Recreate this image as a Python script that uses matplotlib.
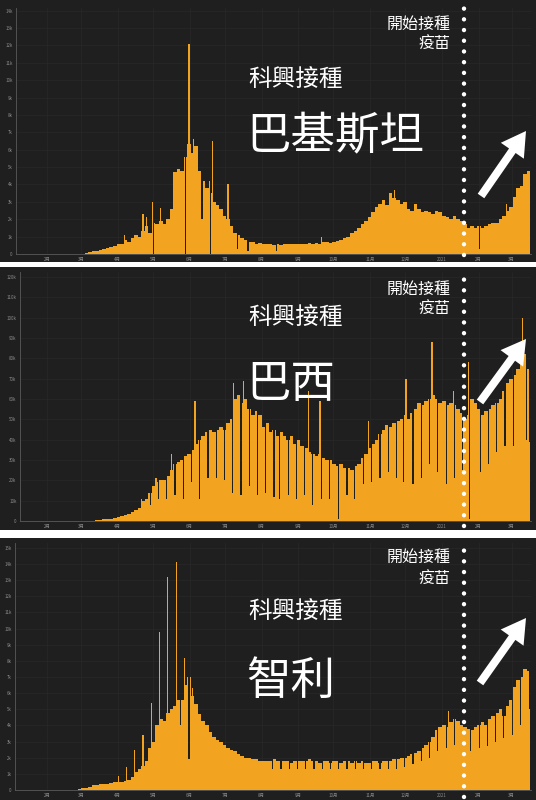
import numpy as np
import matplotlib
matplotlib.use('Agg')
import matplotlib.pyplot as plt
from matplotlib.patches import FancyArrow

plt.rcParams['font.family'] = ['Noto Sans CJK TC', 'DejaVu Sans']

W, H = 536, 800
BG = '#1f1f1f'
ORANGE = '#f2a31f'

# day 0 = 2020-01-01, data starts 2020-01-22, values read in 3-day steps (thousands)
start_day = 21
bin_days = 3
vacc_day = 385

month_days = [31, 60, 91, 121, 152, 182, 213, 244, 274, 305, 335, 366, 397, 425]
month_labels = ['2月', '3月', '4月', '5月', '6月', '7月', '8月', '9月', '10月',
                '11月', '12月', '2021', '2月', '3月']

pak_bins = [0, 0, 0, 0, 0, 0, 0, 0, 0, 0,
            0, 0, 0, 0.02, 0.05, 0.1, 0.15, 0.2, 0.25, 0.3,
            0.35, 0.4, 0.45, 0.55, 0.6, 0.8, 0.7, 0.9, 1.1, 1.0,
            1.3, 1.6, 1.2, 1.8, 1.7, 1.9, 1.7, 2.0, 2.6, 4.7,
            4.9, 4.8, 5.6, 6.3, 5.8, 6.2, 4.8, 4.2, 3.8, 3.5,
            3.0, 2.8, 2.6, 2.2, 2.0, 1.6, 1.2, 1.1, 0.9, 0.8,
            0.7, 0.7, 0.6, 0.65, 0.6, 0.6, 0.55, 0.5, 0.55, 0.5,
            0.6, 0.55, 0.6, 0.6, 0.55, 0.6, 0.6, 0.65, 0.6, 0.65,
            0.6, 0.7, 0.7, 0.65, 0.7, 0.75, 0.8, 0.9, 1.0, 1.2,
            1.3, 1.5, 1.7, 1.9, 2.1, 2.4, 2.7, 2.9, 3.1, 2.8,
            3.5, 3.2, 3.1, 2.9, 3.0, 2.6, 2.5, 2.9, 2.6, 2.4,
            2.5, 2.4, 2.3, 2.5, 2.4, 2.2, 2.1, 2.0, 2.2, 2.0,
            1.9, 1.7, 1.5, 1.6, 1.5, 1.6, 1.5, 1.6, 1.7, 1.8,
            1.8, 2.0, 2.2, 2.5, 2.7, 3.3, 3.8, 3.9, 4.6, 4.8]
pak_mark_days = [96, 112, 115, 120, 121, 127, 148, 151, 155, 162, 168, 169,
                 171, 184, 192, 201, 225, 263, 325, 397, 420]
pak_mark_vals = [1.1, 2.3, 2.1, 3.0, 0.0, 2.65, 0.0, 12.1, 6.6, 2.0, 4.2, 0.0,
                 6.5, 4.0, 0.3, 0.2, 0.2, 1.0, 3.7, 0.3, 2.9]

bra_bins = [0, 0, 0, 0, 0, 0, 0, 0, 0, 0,
            0, 0, 0, 0, 0, 0, 0.2, 0.3, 0.5, 0.8,
            1.0, 1.2, 1.5, 2.0, 2.5, 3.0, 3.5, 4.5, 5.5, 6.5,
            10, 11, 14, 17, 19, 20, 20, 22, 25, 28,
            29, 30, 32, 33, 35, 38, 40, 42, 44, 45,
            44, 45, 46, 45, 48, 50, 60, 62, 58, 60,
            55, 52, 54, 52, 46, 48, 44, 45, 42, 44,
            42, 40, 42, 38, 40, 37, 36, 34, 33, 32,
            33, 31, 30, 30, 28, 27, 28, 26, 26, 25,
            27, 28, 31, 33, 36, 38, 40, 43, 45, 47,
            46, 48, 49, 50, 52, 50, 53, 55, 58, 57,
            59, 60, 62, 60, 58, 59, 57, 58, 57, 55,
            53, 50, 52, 60, 58, 55, 52, 54, 55, 57,
            58, 60, 64, 68, 70, 72, 75, 78, 82, 75]
bra_mark_days = [111, 123, 136, 154, 156, 189, 197, 252, 262, 303, 335, 357,
                 375, 388, 434, 440,
                 118, 125, 132, 139, 146, 153, 160, 167, 174, 181, 188, 195,
                 202, 209, 216, 223, 228, 235, 242, 249, 256, 263, 270, 278,
                 285, 291, 299, 306, 313, 320, 327, 333, 341, 348, 355, 362,
                 369, 376, 383, 389, 398, 405, 412, 419, 426, 437]
bra_mark_vals = [11, 21, 33, 35, 59, 68, 69, 64, 59, 49, 70, 88,
                 64, 78, 100, 39,
                 8, 11, 11, 13, 11, 19, 11, 21, 21, 20, 14, 13,
                 17, 13, 14, 12, 11, 13, 11, 13, 8, 11, 11, 1,
                 13, 11, 18, 19, 21, 24, 21, 19, 18, 21, 28, 24,
                 18, 21, 25, 1, 24, 28, 34, 37, 37, 40]

chl_bins = [0, 0, 0, 0, 0, 0, 0, 0, 0, 0,
            0, 0, 0.05, 0.1, 0.15, 0.2, 0.3, 0.3, 0.35, 0.4,
            0.4, 0.45, 0.5, 0.5, 0.5, 0.55, 0.6, 0.8, 1.1, 1.3,
            1.5, 1.8, 2.6, 3.0, 4.0, 4.4, 4.3, 4.8, 5.0, 5.2,
            5.6, 5.6, 6.5, 7.0, 5.8, 5.3, 4.7, 4.3, 4.0, 3.6,
            3.3, 3.1, 3.0, 2.8, 2.6, 2.5, 2.4, 2.2, 2.1, 2.0,
            2.0, 1.9, 1.9, 1.8, 1.8, 1.8, 1.8, 1.9, 1.8, 1.8,
            1.8, 1.8, 1.7, 1.8, 1.8, 1.8, 1.8, 1.9, 1.8, 1.8,
            1.7, 1.8, 1.8, 1.7, 1.8, 1.8, 1.7, 1.8, 1.8, 1.7,
            1.8, 1.7, 1.8, 1.7, 1.7, 1.8, 1.8, 1.7, 1.8, 1.8,
            1.8, 1.9, 1.9, 2.0, 2.0, 2.1, 2.2, 2.3, 2.4, 2.6,
            2.8, 3.0, 3.3, 3.7, 3.9, 4.0, 3.9, 4.2, 4.4, 4.3,
            4.0, 3.9, 3.8, 3.7, 3.9, 4.0, 4.2, 4.0, 4.4, 4.6,
            4.8, 5.0, 4.6, 5.2, 5.6, 6.4, 6.8, 7.0, 7.5, 7.4]
chl_mark_days = [91, 98, 105, 112, 119, 126, 133, 140, 144, 147, 151, 154, 371, 440,
                 222, 229, 236, 243, 250, 257, 264, 271, 278, 285, 292, 299,
                 306, 313, 320, 327, 334, 341, 348, 355, 362, 369, 376, 390,
                 397, 404, 411, 418, 425, 432]
chl_mark_vals = [0.85, 1.4, 2.5, 3.4, 5.4, 9.8, 13.2, 14.1, 4.0, 8.2, 1.9, 6.3, 4.9, 5.0,
                 1.3, 1.3, 1.3, 1.3, 1.3, 1.3, 1.3, 1.3, 1.3, 1.3, 1.3, 1.3,
                 1.3, 1.3, 1.3, 1.3, 1.4, 1.6, 1.8, 2.0, 2.4, 2.6, 2.8, 2.4,
                 2.6, 2.7, 3.0, 3.2, 3.4, 4.0]

PX_PER_DAY = 1.179
FEB_PX = 47


def frac(x0, y0, x1, y1):
    return [x0 / W, 1 - y1 / H, (x1 - x0) / W, (y1 - y0) / H]


panels = [
    dict(bins=pak_bins, days=pak_mark_days, vals=pak_mark_vals, name='巴基斯坦',
         box=(0, 262), plot=(16, 8, 531, 254), ytop=14.15, ystep=1, ymax_tick=14,
         dots=(-0.005, 1.02), sub_y=79, name_y=136, note_y=(24, 43),
         arrow=(481, 196, 526, 131)),
    dict(bins=bra_bins, days=bra_mark_days, vals=bra_mark_vals, name='巴西',
         box=(267, 530), plot=(20, 272, 531, 521), ytop=122.5, ystep=10, ymax_tick=120,
         dots=(-0.02, 0.985), sub_y=318, name_y=384, note_y=(289, 308),
         arrow=(480, 402, 526, 339)),
    dict(bins=chl_bins, days=chl_mark_days, vals=chl_mark_vals, name='智利',
         box=(538, 800), plot=(15, 543, 531, 790), ytop=15.3, ystep=1, ymax_tick=15,
         dots=(-0.028, 0.99), sub_y=612, name_y=681, note_y=(557, 578),
         arrow=(480, 683, 526, 618)),
]

fig = plt.figure(figsize=(W / 100, H / 100), dpi=100)
fig.patch.set_facecolor('white')

for p in panels:
    # dark panel background
    bg = fig.add_axes(frac(0, p['box'][0], W, p['box'][1]))
    bg.set_facecolor(BG)
    bg.set_xticks([])
    bg.set_yticks([])
    for s in bg.spines.values():
        s.set_visible(False)

    x0, y0, x1, y1 = p['plot']
    ax = fig.add_axes(frac(x0, y0, x1, y1))
    ax.set_facecolor(BG)

    daily = np.repeat(np.array(p['bins'], dtype=float), bin_days)
    for d, v in zip(p['days'], p['vals']):
        daily[d - start_day] = v
    edges = start_day + np.arange(len(daily) + 1)
    ax.stairs(daily, edges, fill=True, color=ORANGE, lw=0, baseline=0, zorder=2)

    ax.set_xlim(31 - (FEB_PX - x0) / PX_PER_DAY, 31 + (x1 - FEB_PX) / PX_PER_DAY)
    ax.set_ylim(0, p['ytop'])

    yt = np.arange(0, p['ymax_tick'] + p['ystep'], p['ystep'])
    ax.set_yticks(yt)
    ax.set_yticklabels(['0' if v == 0 else f'{v:g}k' for v in yt])
    ax.set_xticks(month_days)
    ax.set_xticklabels(month_labels)
    ax.tick_params(length=0, labelsize=3.2, colors='#8a8a8a', pad=2.5)
    ax.grid(color='#282828', lw=0.5, zorder=0)
    for side in ['top', 'right']:
        ax.spines[side].set_visible(False)
    for side in ['left', 'bottom']:
        ax.spines[side].set_color('#5a5a5a')
        ax.spines[side].set_linewidth(0.6)

    ax.axvline(vacc_day, ymin=p['dots'][0], ymax=p['dots'][1], color='white', lw=3.2,
               linestyle=(0, (0.01, 2.4)), dash_capstyle='round', clip_on=False, zorder=5)

# overlay for annotations, in pixel units
ov = fig.add_axes([0, 0, 1, 1])
ov.set_xlim(0, W)
ov.set_ylim(H, 0)
ov.axis('off')
ov.patch.set_alpha(0)

for p in panels:
    ov.text(248, p['sub_y'], '科興接種', fontsize=17, color='white', ha='left', va='center')
    ov.text(246, p['name_y'], p['name'], fontsize=32, color='white', ha='left', va='center')
    ov.text(451, p['note_y'][0], '開始接種', fontsize=11.5, color='white', ha='right',
            va='center', fontweight='medium')
    ov.text(451, p['note_y'][1], '疫苗', fontsize=11.5, color='white', ha='right',
            va='center', fontweight='medium')
    ax0, ay0, ax1, ay1 = p['arrow']
    ov.add_patch(FancyArrow(ax0, ay0, ax1 - ax0, ay1 - ay0, width=8, head_width=28,
                            head_length=24, length_includes_head=True,
                            color='white', lw=0, zorder=6))

fig.savefig('out.png', dpi=100, facecolor='white')
